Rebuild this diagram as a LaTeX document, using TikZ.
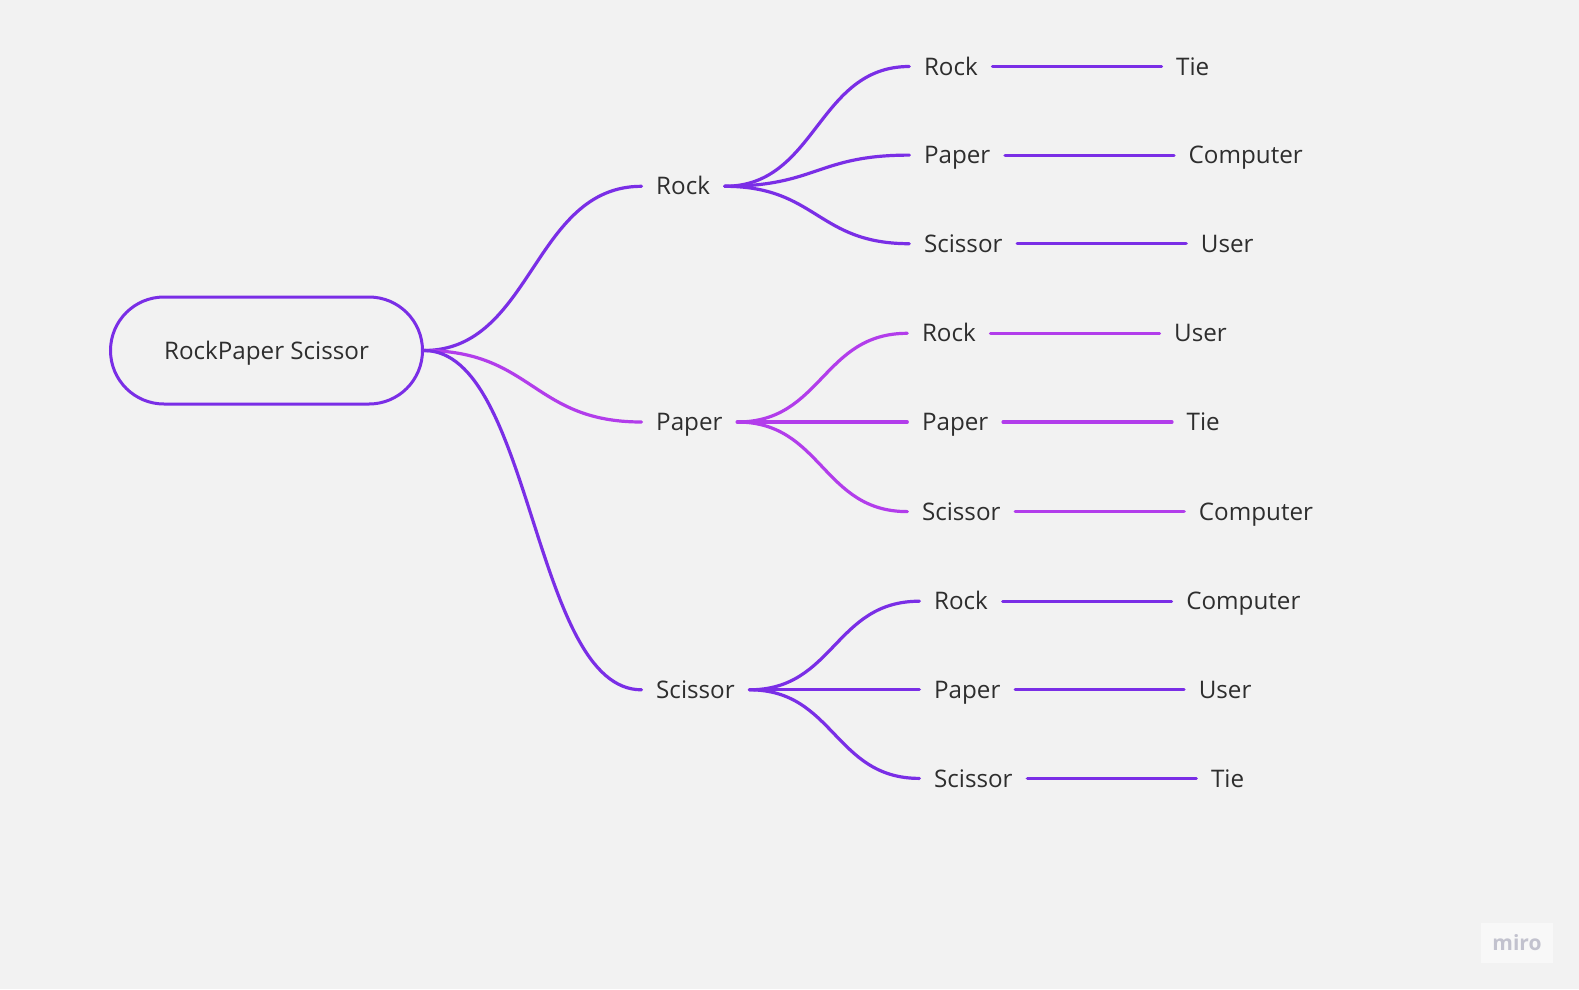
\documentclass[tikz,border=0pt]{standalone}
\usepackage{fontspec}
\setmainfont{Open Sans}
\usetikzlibrary{positioning}
\usetikzlibrary{calc}

\definecolor{miroviolet}{HTML}{7A2EE6}
\definecolor{miroorchid}{HTML}{B23DEB}
\definecolor{boardgray}{HTML}{F2F2F2}
\definecolor{inkgray}{HTML}{2E2E2E}
\definecolor{logogray}{HTML}{C2C2CE}

% curved connector, horizontal at both ends
\newcommand{\twig}[3]{%
  \draw[link, #1] let \p1=(#2.east), \p2=(#3.west) in
    (\p1) .. controls ({(\x1+\x2)/2},\y1) and ({(\x1+\x2)/2},\y2) .. (\p2);}

\begin{document}
\begin{tikzpicture}[x=1pt, y=-1pt,
    item/.style={anchor=west, inner xsep=14.5pt, inner ysep=0pt,
      text height=17.3pt, text depth=0pt, text=inkgray,
      font=\fontsize{24.2}{29}\selectfont},
    topic/.style={draw=miroviolet, line width=3pt, rounded corners=53.5pt,
      minimum width=312pt, minimum height=107pt, text=inkgray,
      text height=17.3pt, text depth=0pt,
      font=\fontsize{24.2}{29}\selectfont},
    link/.style={line width=3.2pt, line cap=round}]

    % Board
    \fill[boardgray] (0,0) rectangle (1579,989);
    \useasboundingbox (0,0) rectangle (1579,989);

    % Root
    \node[topic] (root) at (266.5,350.5) {RockPaper Scissor};

    % First moves
    \node[item] (rock) at (641.5,186.3) {Rock};
    \node[item] (paper) at (641.5,422) {Paper};
    \node[item] (scissor) at (641.5,689.8) {Scissor};

    \twig{miroviolet}{root}{rock}
    \twig{miroorchid}{root}{paper}
    \twig{miroviolet}{root}{scissor}

    % Second moves after Rock
    \node[item] (rock-rock) at (909.3,66.5) {Rock};
    \node[item] (rock-paper) at (909.3,155.1) {Paper};
    \node[item] (rock-scissor) at (909.3,243.7) {Scissor};

    \twig{miroviolet}{rock}{rock-rock}
    \twig{miroviolet}{rock}{rock-paper}
    \twig{miroviolet}{rock}{rock-scissor}

    % Second moves after Paper
    \node[item] (paper-rock) at (907.3,333.3) {Rock};
    \node[item] (paper-paper) at (907.3,422) {Paper};
    \node[item] (paper-scissor) at (907.3,511.6) {Scissor};

    \twig{miroorchid}{paper}{paper-rock}
    \twig{miroorchid}{paper}{paper-paper}
    \twig{miroorchid}{paper}{paper-scissor}

    % Second moves after Scissor
    \node[item] (scissor-rock) at (919.4,601.2) {Rock};
    \node[item] (scissor-paper) at (919.4,689.8) {Paper};
    \node[item] (scissor-scissor) at (919.4,778.4) {Scissor};

    \twig{miroviolet}{scissor}{scissor-rock}
    \twig{miroviolet}{scissor}{scissor-paper}
    \twig{miroviolet}{scissor}{scissor-scissor}

    % Winners
    \node[item, right=169pt of rock-rock] (win-rr) {Tie};
    \node[item, right=169pt of rock-paper] (win-rp) {Computer};
    \node[item, right=169pt of rock-scissor] (win-rs) {User};
    \node[item, right=169pt of paper-rock] (win-pr) {User};
    \node[item, right=169pt of paper-paper] (win-pp) {Tie};
    \node[item, right=169pt of paper-scissor] (win-ps) {Computer};
    \node[item, right=169pt of scissor-rock] (win-sr) {Computer};
    \node[item, right=169pt of scissor-paper] (win-sp) {User};
    \node[item, right=169pt of scissor-scissor] (win-ss) {Tie};

    \draw[link, miroviolet] (rock-rock) -- (win-rr);
    \draw[link, miroviolet] (rock-paper) -- (win-rp);
    \draw[link, miroviolet] (rock-scissor) -- (win-rs);
    \draw[link, miroorchid] (paper-rock) -- (win-pr);
    \draw[link, miroorchid] (paper-paper) -- (win-pp);
    \draw[link, miroorchid] (paper-scissor) -- (win-ps);
    \draw[link, miroviolet] (scissor-rock) -- (win-sr);
    \draw[link, miroviolet] (scissor-paper) -- (win-sp);
    \draw[link, miroviolet] (scissor-scissor) -- (win-ss);

    % Watermark
    \node[fill=white!45!boardgray, minimum width=72pt, minimum height=40pt,
      text=logogray, font=\bfseries\fontsize{21}{24}\selectfont] (logo)
      at (1517,943) {miro};

\end{tikzpicture}
\end{document}
